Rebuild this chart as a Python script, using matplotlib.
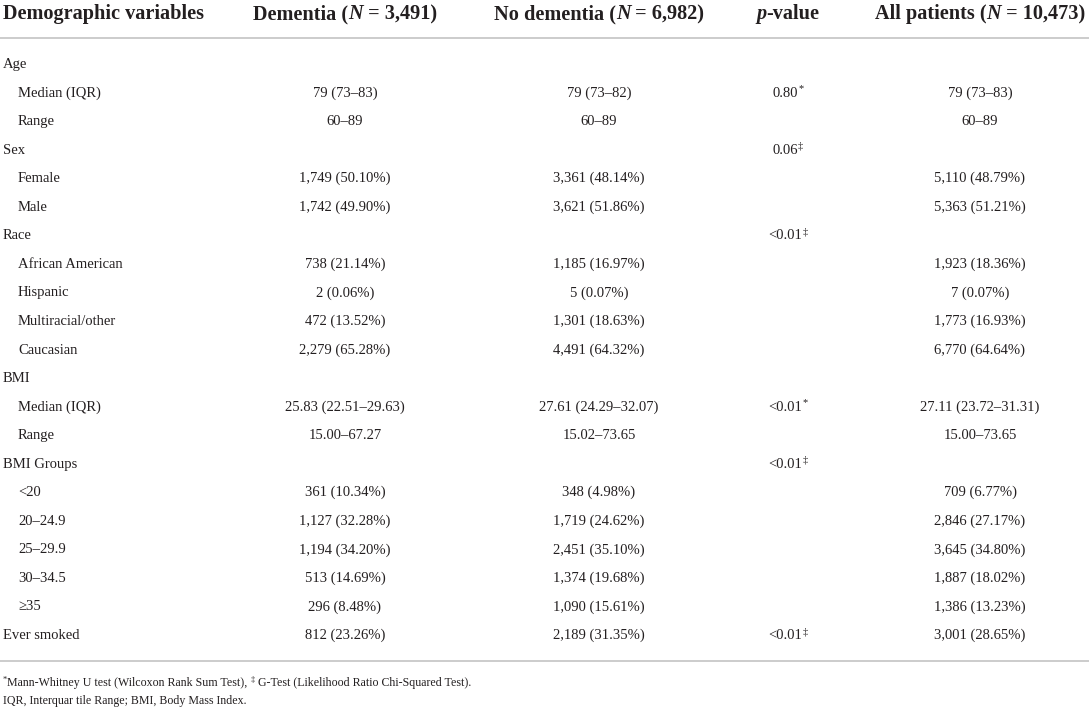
import matplotlib
matplotlib.use("Agg")
import matplotlib.pyplot as plt

# Table content
labels = ["Age", "Median (IQR)", "Range", "Sex", "Female", "Male", "Race",
          "African American", "Hispanic", "Multiracial/other", "Caucasian",
          "BMI", "Median (IQR)", "Range", "BMI Groups", "<20", "20–24.9",
          "25–29.9", "30–34.5", "≥35", "Ever smoked"]
indent = [0, 1, 1, 0, 1, 1, 0, 1, 1, 1, 1, 0, 1, 1, 0, 1, 1, 1, 1, 1, 0]

dementia = ["", "79 (73–83)", "60–89", "", "1,749 (50.10%)", "1,742 (49.90%)", "",
            "738 (21.14%)", "2 (0.06%)", "472 (13.52%)", "2,279 (65.28%)", "",
            "25.83 (22.51–29.63)", "15.00–67.27", "", "361 (10.34%)",
            "1,127 (32.28%)", "1,194 (34.20%)", "513 (14.69%)", "296 (8.48%)",
            "812 (23.26%)"]
no_dementia = ["", "79 (73–82)", "60–89", "", "3,361 (48.14%)", "3,621 (51.86%)", "",
               "1,185 (16.97%)", "5 (0.07%)", "1,301 (18.63%)", "4,491 (64.32%)", "",
               "27.61 (24.29–32.07)", "15.02–73.65", "", "348 (4.98%)",
               "1,719 (24.62%)", "2,451 (35.10%)", "1,374 (19.68%)", "1,090 (15.61%)",
               "2,189 (31.35%)"]
p_values = ["", "0.80", "", "0.06", "", "", "<0.01", "", "", "", "", "",
            "<0.01", "", "<0.01", "", "", "", "", "", "<0.01"]
p_marks = ["", "*", "", "‡", "", "", "‡", "", "", "", "", "",
           "*", "", "‡", "", "", "", "", "", "‡"]
all_patients = ["", "79 (73–83)", "60–89", "", "5,110 (48.79%)", "5,363 (51.21%)", "",
                "1,923 (18.36%)", "7 (0.07%)", "1,773 (16.93%)", "6,770 (64.64%)", "",
                "27.11 (23.72–31.31)", "15.00–73.65", "", "709 (6.77%)",
                "2,846 (27.17%)", "3,645 (34.80%)", "1,887 (18.02%)", "1,386 (13.23%)",
                "3,001 (28.65%)"]

footnote1 = [("*", "sup"), ("Mann-Whitney U test (Wilcoxon Rank Sum Test), ", "n"),
             ("‡", "sup"), (" G-Test (Likelihood Ratio Chi-Squared Test).", "n")]
footnote2 = "IQR, Interquar tile Range; BMI, Body Mass Index."

FONT = "Liberation Serif"
INK = "#231f20"
W, H = 1089, 711

fig = plt.figure(figsize=(W / 100, H / 100), dpi=100)
ax = fig.add_axes([0, 0, 1, 1])
ax.set_xlim(0, W)
ax.set_ylim(H, 0)
ax.axis("off")
renderer = fig.canvas.get_renderer()


def rich(x, y, pieces, ha="left"):
    # pieces: list of (text, kwargs, dy) drawn one after another on a baseline
    arts = []
    for txt, kw, dy in pieces:
        t = ax.text(0, y + dy, txt, va="baseline", ha="left", color=INK,
                    family=FONT, **kw)
        arts.append(t)
    widths = [a.get_window_extent(renderer).width for a in arts]
    total = sum(widths)
    x0 = x - total / 2 if ha == "center" else x
    for a, w in zip(arts, widths):
        a.set_x(x0)
        x0 += w


# header
hsize = 14.6
bold = dict(size=hsize, weight="bold")
boldit = dict(size=hsize, weight="bold", style="italic")
head_y = 19
rich(3, head_y, [("Demographic variables", bold, 0)])
rich(345, head_y, [("Dementia (", bold, 0), ("N", boldit, 0), (" = 3,491)", bold, 0)], "center")
rich(599, head_y, [("No dementia (", bold, 0), ("N", boldit, 0), (" = 6,982)", bold, 0)], "center")
rich(788, head_y, [("p", boldit, 0), ("-value", bold, 0)], "center")
rich(980, head_y, [("All patients (", bold, 0), ("N", boldit, 0), (" = 10,473)", bold, 0)], "center")

ax.plot([0, W], [38, 38], color="#c4c4c4", lw=1.2)

# body
bsize = 10.5
body = dict(size=bsize)
sup = dict(size=7.5)
row0, step = 68, 28.55
for i, lab in enumerate(labels):
    y = row0 + i * step
    ax.text(3 + 15 * indent[i], y, lab, va="baseline", ha="left", color=INK,
            family=FONT, size=bsize)
    for xc, col in ((345, dementia), (599, no_dementia), (980, all_patients)):
        if col[i]:
            ax.text(xc, y, col[i], va="baseline", ha="center", color=INK,
                    family=FONT, size=bsize)
    if p_values[i]:
        rich(788, y, [(p_values[i], body, 0), (p_marks[i], sup, -5)], "center")

ax.plot([0, W], [661, 661], color="#c4c4c4", lw=1.2)

# footnotes
fsize = 8.6
fn = []
for txt, kind in footnote1:
    if kind == "sup":
        fn.append((txt, dict(size=6), -4))
    else:
        fn.append((txt, dict(size=fsize), 0))
rich(3, 686, fn)
ax.text(3, 704, footnote2, va="baseline", ha="left", color=INK, family=FONT, size=fsize)

fig.savefig("out.png", dpi=100)
